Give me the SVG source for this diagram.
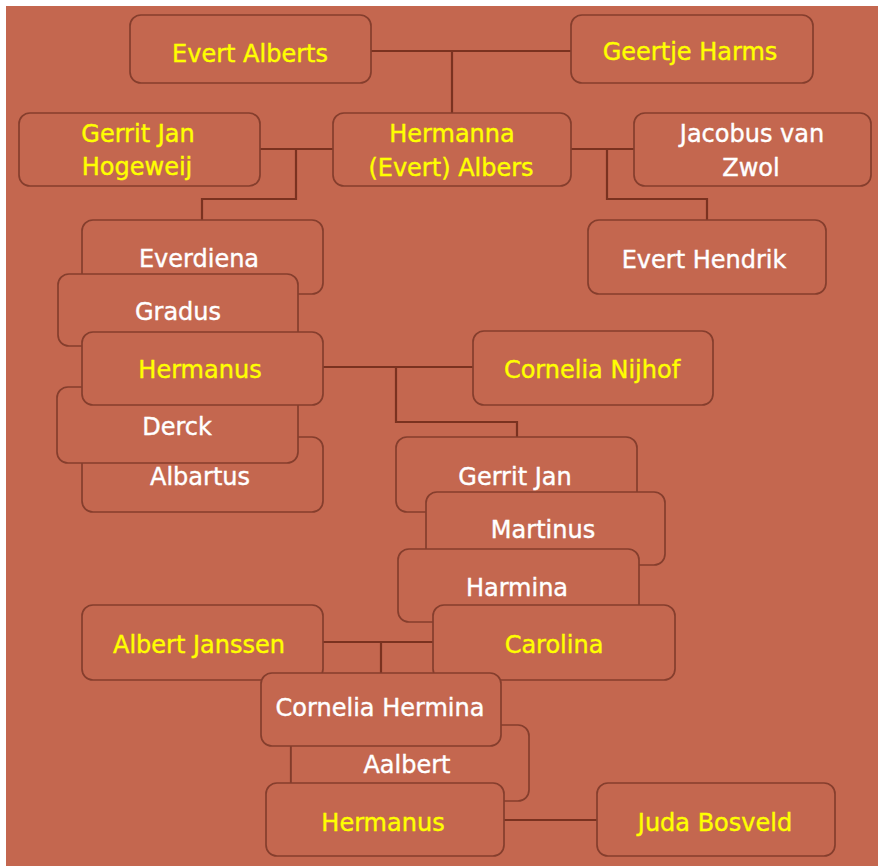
<svg xmlns="http://www.w3.org/2000/svg" width="878" height="866" viewBox="0 0 878 866">
<style>
.n{fill:#C4674F;stroke:#853E2D;stroke-width:1.7}
.c{fill:none;stroke:#7A3220;stroke-width:2.2}
text{font-family:"DejaVu Sans","Liberation Sans",sans-serif;font-size:24px;text-anchor:middle;stroke-width:0.4}
.y{fill:#FFFF00;stroke:#FFFF00}
.w{fill:#FFFFFF;stroke:#FFFFFF}
</style>
<rect x="0" y="0" width="878" height="866" fill="#FFFFFF"/>
<rect x="6" y="6" width="872" height="860" fill="#C4674F"/>
<g id="connectors">
<path class="c" d="M371,51H571M452,51V113"/>
<path class="c" d="M260,149H333M296,149V199H202V220"/>
<path class="c" d="M571,149H634M607,149V199H707V220"/>
<path class="c" d="M323,367H473M396,367V422H517V437"/>
<path class="c" d="M323,642H433M381,642V673"/>
<path class="c" d="M291,746V783"/>
<path class="c" d="M504,820H597"/>
</g>
<g id="evert-alberts"><rect class="n" x="130" y="15" width="241" height="68" rx="11"/><text class="y" x="250" y="62">Evert Alberts</text></g>
<g id="geertje-harms"><rect class="n" x="571" y="15" width="242" height="68" rx="11"/><text class="y" x="690" y="60">Geertje Harms</text></g>
<g id="gerrit-jan-hogeweij"><rect class="n" x="19" y="113" width="241" height="73" rx="11"/><text class="y" x="138" y="142">Gerrit Jan</text><text class="y" x="137" y="175">Hogeweij</text></g>
<g id="hermanna"><rect class="n" x="333" y="113" width="238" height="73" rx="11"/><text class="y" x="452" y="142">Hermanna</text><text class="y" x="451" y="176">(Evert) Albers</text></g>
<g id="jacobus-van-zwol"><rect class="n" x="634" y="113" width="237" height="73" rx="11"/><text class="w" x="752" y="142">Jacobus van</text><text class="w" x="751" y="176">Zwol</text></g>
<g id="evert-hendrik"><rect class="n" x="588" y="220" width="238" height="74" rx="11"/><text class="w" x="704" y="268">Evert Hendrik</text></g>
<g id="everdiena"><rect class="n" x="82" y="220" width="241" height="74" rx="11"/><text class="w" x="199" y="267">Everdiena</text></g>
<g id="gradus"><rect class="n" x="58" y="274" width="240" height="72" rx="11"/><text class="w" x="178" y="320">Gradus</text></g>
<g id="albartus"><rect class="n" x="82" y="437" width="241" height="75" rx="11"/><text class="w" x="200" y="485">Albartus</text></g>
<g id="derck"><rect class="n" x="57" y="387" width="241" height="76" rx="11"/><text class="w" x="177" y="435">Derck</text></g>
<g id="hermanus"><rect class="n" x="82" y="332" width="241" height="73" rx="11"/><text class="y" x="200" y="378">Hermanus</text></g>
<g id="cornelia-nijhof"><rect class="n" x="473" y="331" width="240" height="74" rx="11"/><text class="y" x="592" y="378">Cornelia Nijhof</text></g>
<g id="gerrit-jan"><rect class="n" x="396" y="437" width="241" height="75" rx="11"/><text class="w" x="515" y="485">Gerrit Jan</text></g>
<g id="martinus"><rect class="n" x="426" y="492" width="239" height="73" rx="11"/><text class="w" x="543" y="538">Martinus</text></g>
<g id="harmina"><rect class="n" x="398" y="549" width="241" height="73" rx="11"/><text class="w" x="517" y="596">Harmina</text></g>
<g id="carolina"><rect class="n" x="433" y="605" width="242" height="75" rx="11"/><text class="y" x="554" y="653">Carolina</text></g>
<g id="albert-janssen"><rect class="n" x="82" y="605" width="241" height="75" rx="11"/><text class="y" x="199" y="653">Albert Janssen</text></g>
<g id="aalbert"><rect class="n" x="291" y="725" width="238" height="76" rx="11"/><text class="w" x="407" y="773">Aalbert</text></g>
<g id="cornelia-hermina"><rect class="n" x="261" y="673" width="240" height="73" rx="11"/><text class="w" x="380" y="716">Cornelia Hermina</text></g>
<g id="hermanus-2"><rect class="n" x="266" y="783" width="238" height="73" rx="11"/><text class="y" x="383" y="831">Hermanus</text></g>
<g id="juda-bosveld"><rect class="n" x="597" y="783" width="238" height="73" rx="11"/><text class="y" x="715" y="831">Juda Bosveld</text></g>
</svg>
